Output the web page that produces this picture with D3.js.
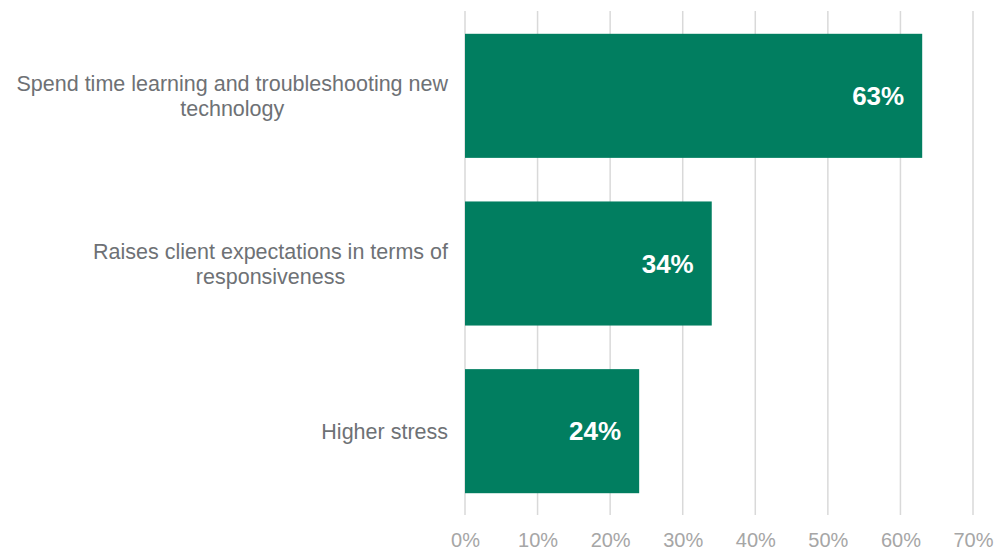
<!DOCTYPE html>
<html>
<head>
<meta charset="utf-8">
<script src="https://cdn.jsdelivr.net/npm/d3@7"></script>
<style>
  html, body { margin: 0; padding: 0; background: #ffffff; }
  svg { display: block; font-family: "Liberation Sans", Arial, sans-serif; }
</style>
</head>
<body>
<svg id="chart" width="996" height="551"></svg>
<script>
// Survey responses: downsides of new technology
const categories = [
  ["Spend time learning and troubleshooting new", "technology"],
  ["Raises client expectations in terms of", "responsiveness"],
  ["Higher stress"]
];
const values = [0.63, 0.34, 0.24];
const tickValues = [0, 0.1, 0.2, 0.3, 0.4, 0.5, 0.6, 0.7];

const svg = d3.select("#chart");

const x = d3.scaleLinear().domain([0, 0.7]).range([465, 973]);
const y = d3.scaleBand()
  .domain(d3.range(categories.length))
  .range([12, 515])
  .paddingInner(0.26)
  .paddingOuter(0.13);

// Vertical gridlines
svg.append("g")
  .selectAll("line")
  .data(tickValues)
  .join("line")
  .attr("x1", d => x(d)).attr("x2", d => x(d))
  .attr("y1", 11).attr("y2", 515)
  .attr("stroke", "#d9d9d9")
  .attr("stroke-width", 1.5);

// Bottom axis labels
const xAxis = d3.axisBottom(x)
  .tickValues(tickValues)
  .tickFormat(d3.format(".0%"))
  .tickSize(0)
  .tickPadding(0);
const gx = svg.append("g").attr("transform", "translate(0,533)").call(xAxis);
gx.select(".domain").remove();
gx.selectAll("text")
  .attr("fill", "#a6a6a6")
  .attr("font-size", "20px")
  .attr("font-family", "Liberation Sans, Arial, sans-serif");

// Bars
svg.append("g")
  .selectAll("rect")
  .data(values)
  .join("rect")
  .attr("x", x(0))
  .attr("y", (d, i) => y(i))
  .attr("width", d => x(d) - x(0))
  .attr("height", y.bandwidth())
  .attr("fill", "#017e60");

// Value labels inside bar ends
svg.append("g")
  .selectAll("text")
  .data(values)
  .join("text")
  .attr("x", d => x(d) - 18)
  .attr("y", (d, i) => y(i) + y.bandwidth() / 2)
  .attr("dy", "0.35em")
  .attr("text-anchor", "end")
  .attr("fill", "#ffffff")
  .attr("font-weight", "bold")
  .attr("font-size", "26px")
  .text(d => d3.format(".0%")(d));

// Category labels: block right-aligned to the axis, lines centred within block
const fontSize = 21.5, lineH = 25, rightEdge = 448;
categories.forEach((lines, i) => {
  const g = svg.append("g");
  const texts = lines.map(t => g.append("text")
    .attr("font-size", fontSize + "px")
    .attr("fill", "#6e7175")
    .attr("text-anchor", "middle")
    .text(t));
  const maxW = d3.max(texts, t => t.node().getComputedTextLength());
  const cx = rightEdge - maxW / 2;
  const cy = y(i) + y.bandwidth() / 2;
  const top = cy - (lines.length - 1) * lineH / 2;
  texts.forEach((t, k) => t.attr("x", cx).attr("y", top + k * lineH).attr("dy", "0.35em"));
});
</script>
</body>
</html>
